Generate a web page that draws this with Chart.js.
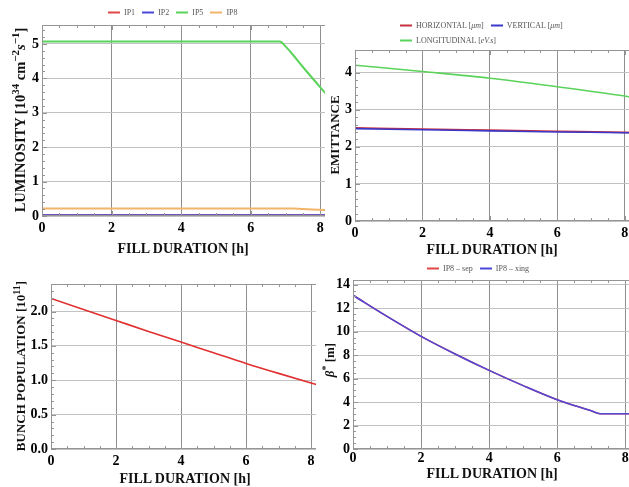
<!DOCTYPE html>
<html>
<head>
<meta charset="utf-8">
<script src="https://cdn.jsdelivr.net/npm/chart.js@4/dist/chart.umd.min.js"></script>
<style>
body { margin: 0; width: 629px; height: 487px; background: #fff; position: relative; overflow: hidden; font-family: "Liberation Serif", "Times New Roman", serif; }
.panel { position: absolute; overflow: hidden; background: #fff; }
.panel canvas { position: absolute; left: 0; top: 0; }
.title { position: absolute; font-weight: bold; font-size: 14px; white-space: nowrap; transform: translate(-50%, -50%); color: #111; }
.ytitle { font-size: 13px; transform: translate(-50%, -50%) rotate(-90deg); }
.title sup { font-size: 10px; line-height: 0; }
.ytitle.big { font-size: 14.5px; }
.ytitle.big sup { font-size: 11px; }
.legend { position: absolute; font-size: 8px; color: #555; white-space: nowrap; transform: translateY(-50%); }
.legend .key { display: inline-block; width: 12px; height: 1.5px; vertical-align: middle; margin: 0 4px 0 5px; }
</style>
</head>
<body>

<div class="panel" style="left:0;top:0;width:325px;height:240px"><canvas id="lumi" width="345" height="240"></canvas></div>
<div class="panel" style="left:325px;top:0;width:304px;height:240px"><canvas id="emit" width="320" height="240"></canvas></div>
<div class="panel" style="left:0;top:240px;width:316px;height:247px"><canvas id="bunch" width="340" height="247"></canvas></div>
<div class="panel" style="left:325px;top:240px;width:304px;height:247px"><canvas id="beta" width="320" height="247"></canvas></div>

<div class="legend" style="left:103px;top:12px">
  <span class="key" style="background:#e04848"></span>IP1
  <span class="key" style="background:#4a48d8"></span>IP2
  <span class="key" style="background:#5ad35a"></span>IP5
  <span class="key" style="background:#f2b468"></span>IP8
</div>
<div class="legend" style="left:395px;top:25px">
  <span class="key" style="background:#c83040"></span>HORIZONTAL [<i>μm</i>]
  <span class="key" style="background:#3a38c8"></span>VERTICAL [<i>μm</i>]
</div>
<div class="legend" style="left:395px;top:40px">
  <span class="key" style="background:#5ad35a"></span>LONGITUDINAL [<i>eV.s</i>]
</div>
<div class="legend" style="left:422px;top:268px">
  <span class="key" style="background:#e04848"></span>IP8 – sep
  <span class="key" style="background:#4a48d8"></span>IP8 – xing
</div>

<div class="title" style="left:183px;top:249px">FILL DURATION [h]</div>
<div class="title" style="left:492px;top:250px">FILL DURATION [h]</div>
<div class="title" style="left:185px;top:479px">FILL DURATION [h]</div>
<div class="title" style="left:492px;top:474px">FILL DURATION [h]</div>

<div class="title ytitle big" style="left:20px;top:120px">LUMINOSITY [10<sup>34</sup> cm<sup>−2</sup><i>s</i><sup>−1</sup>]</div>
<div class="title ytitle" style="left:335px;top:135px">EMITTANCE</div>
<div class="title ytitle" style="left:21px;top:366px">BUNCH POPULATION [10<sup>11</sup>]</div>
<div class="title ytitle" style="left:330px;top:360px"><i>β</i><sup>*</sup> [m]</div>

<script>
// luminosity per interaction point
const lumiHours = [0, 2, 4, 6, 6.84, 7.0, 7.2, 7.5, 8.0, 8.4];
const ip1Lumi = [0.03, 0.03, 0.03, 0.03, 0.03, 0.03, 0.03, 0.03, 0.03, 0.03];
const ip2Lumi = [0.03, 0.03, 0.03, 0.03, 0.03, 0.03, 0.03, 0.03, 0.03, 0.03];
const ip5Lumi = [5.07, 5.07, 5.07, 5.07, 5.07, 4.93, 4.70, 4.33, 3.74, 3.28];
const ip8Lumi = [0.22, 0.22, 0.22, 0.22, 0.22, 0.22, 0.22, 0.20, 0.18, 0.16];

// emittances
const emitHours = [0, 2, 4, 6, 8, 8.6];
const horizEmit = [2.51, 2.48, 2.45, 2.42, 2.39, 2.38];
const vertEmit = [2.49, 2.46, 2.43, 2.40, 2.38, 2.37];
const longEmit = [4.20, 4.03, 3.85, 3.62, 3.37, 3.28];

// bunch population, 1e11
const bunchHours = [0, 1, 2, 3, 4, 5, 6, 7, 8, 8.9];
const bunchPop = [2.19, 2.03, 1.87, 1.71, 1.555, 1.40, 1.245, 1.10, 0.96, 0.84];

// beta* at IP8
const betaHours = [0, 1, 2, 3, 4, 5, 6, 7, 7.26, 8, 8.6];
const betaSep = [13.1, 11.3, 9.6, 8.1, 6.7, 5.4, 4.2, 3.25, 3.0, 3.0, 3.0];
const betaXing = [13.1, 11.3, 9.6, 8.1, 6.7, 5.4, 4.2, 3.25, 3.0, 3.0, 3.0];

const RED = '#e04848', BLUE = '#4a48d8', GREEN = '#5ad35a', ORANGE = '#f2b468';
const tickFont = { family: '"Liberation Serif", serif', size: 14, weight: 'bold' };

function pts(xs, ys) {
    return xs.map((x, i) => ({ x: x, y: ys[i] }));
}

// Mathematica-style frame with inward major/minor tick marks
const framePlugin = {
    id: 'frame',
    afterDraw(chart, args, opts) {
        const ctx = chart.ctx, a = chart.chartArea;
        const xs = chart.scales.x, ys = chart.scales.y;
        ctx.save();
        ctx.strokeStyle = '#959595';
        ctx.lineWidth = 1;
        ctx.strokeRect(a.left + 0.5, a.top + 0.5, a.right - a.left - 1, a.bottom - a.top - 1);
        ctx.beginPath();
        for (let i = 0; i * opts.xMinor <= xs.max; i++) {
            const v = i * opts.xMinor;
            const major = Math.abs(v / opts.xMajor - Math.round(v / opts.xMajor)) < 1e-6;
            const len = major ? 5 : 3;
            const px = Math.round(xs.getPixelForValue(v)) + 0.5;
            ctx.moveTo(px, a.bottom); ctx.lineTo(px, a.bottom - len);
            ctx.moveTo(px, a.top); ctx.lineTo(px, a.top + len);
        }
        for (let i = 0; i * opts.yMinor <= ys.max; i++) {
            const v = i * opts.yMinor;
            const major = Math.abs(v / opts.yMajor - Math.round(v / opts.yMajor)) < 1e-6;
            const len = major ? 5 : 3;
            const py = Math.round(ys.getPixelForValue(v)) + 0.5;
            ctx.moveTo(a.left, py); ctx.lineTo(a.left + len, py);
            ctx.moveTo(a.right, py); ctx.lineTo(a.right - len, py);
        }
        ctx.stroke();
        ctx.restore();
    }
};

// first dataset in the list ends up drawn on top
function makePanel(id, datasets, p) {
    const line = ds => Object.assign({
        borderWidth: 1.6,
        pointRadius: 0,
        fill: false,
        cubicInterpolationMode: 'monotone'
    }, ds);

    return new Chart(document.getElementById(id), {
        type: 'line',
        data: { datasets: datasets.map(line) },
        plugins: [framePlugin],
        options: {
            responsive: false,
            animation: false,
            devicePixelRatio: 1,
            layout: { padding: { top: p.top, left: 0, right: 0, bottom: 0 } },
            plugins: {
                legend: { display: false },
                tooltip: { enabled: false },
                frame: { xMajor: 2, xMinor: 0.5, yMajor: p.yStep, yMinor: p.yMinor }
            },
            scales: {
                x: {
                    type: 'linear',
                    min: 0,
                    max: p.xMax,
                    border: { display: false },
                    grid: { color: '#8e8e8e', lineWidth: 1, drawTicks: false },
                    ticks: { stepSize: 2, includeBounds: false, maxRotation: 0, color: '#000', font: tickFont, padding: p.xPad },
                    afterFit: s => { s.height = p.xHeight; }
                },
                y: {
                    min: 0,
                    max: p.yMax,
                    border: { display: false },
                    grid: { color: '#c2c2c2', lineWidth: 1, drawTicks: false },
                    ticks: {
                        stepSize: p.yStep,
                        includeBounds: false,
                        color: '#000',
                        font: tickFont,
                        padding: 3,
                        callback: v => p.yDigits ? v.toFixed(p.yDigits) : v
                    },
                    afterFit: s => { s.width = p.yWidth; }
                }
            }
        }
    });
}

makePanel('lumi', [
    { data: pts(lumiHours, ip5Lumi), borderColor: GREEN, borderWidth: 2 },
    { data: pts(lumiHours, ip8Lumi), borderColor: ORANGE, borderWidth: 2 },
    { data: pts(lumiHours, ip2Lumi), borderColor: BLUE },
    { data: pts(lumiHours, ip1Lumi), borderColor: RED }
], { top: 25, xHeight: 24, yWidth: 42, xMax: 8.71, yMax: 5.55, yStep: 1, yMinor: 0.2, xPad: 4 });

makePanel('emit', [
    { data: pts(emitHours, longEmit), borderColor: GREEN },
    { data: pts(emitHours, vertEmit), borderColor: '#3a38c8' },
    { data: pts(emitHours, horizEmit), borderColor: '#c83040' }
], { top: 50, xHeight: 19, yWidth: 30, xMax: 8.6, yMax: 4.61, yStep: 1, yMinor: 0.2, xPad: 4 });

makePanel('bunch', [
    { data: pts(bunchHours, bunchPop), borderColor: '#e03030' }
], { top: 44, xHeight: 38, yWidth: 51, xMax: 8.89, yMax: 2.4, yStep: 0.5, yMinor: 0.1, yDigits: 1, xPad: 4 });

makePanel('beta', [
    { data: pts(betaHours, betaXing), borderColor: '#5248d8' },
    { data: pts(betaHours, betaSep), borderColor: RED }
], { top: 40, xHeight: 38, yWidth: 28, xMax: 8.58, yMax: 14.4, yStep: 2, yMinor: 0.5, xPad: 1 });
</script>
</body>
</html>
